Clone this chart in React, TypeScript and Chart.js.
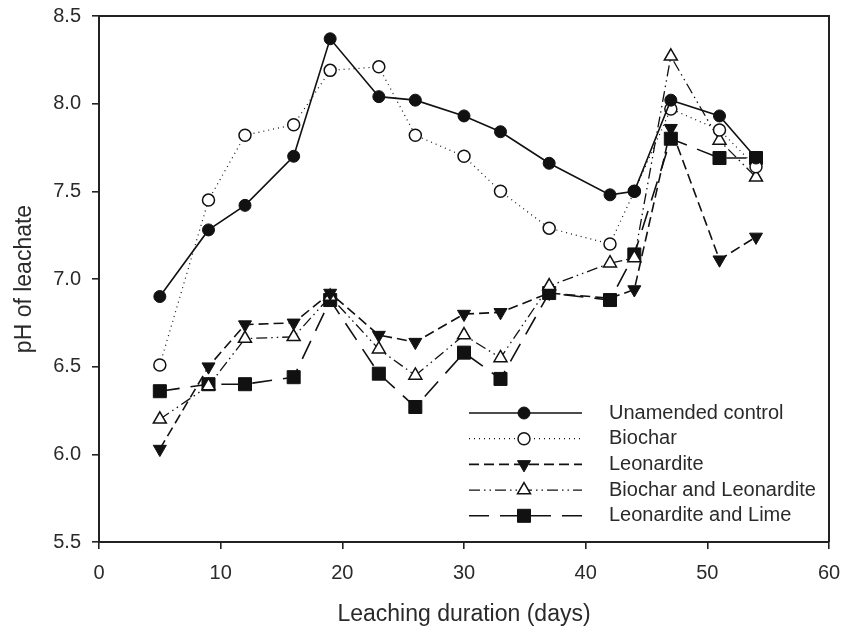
import React, { useEffect, useRef } from 'react';
import { Chart, registerables } from 'chart.js';

Chart.register(...registerables);

// ---- data ----
const days = [5, 9, 12, 16, 19, 23, 26, 30, 33, 37, 42, 44, 47, 51, 54];
const unamendedControl = [6.90, 7.28, 7.42, 7.70, 8.37, 8.04, 8.02, 7.93, 7.84, 7.66, 7.48, 7.50, 8.02, 7.93, 7.69];
const biochar = [6.51, 7.45, 7.82, 7.88, 8.19, 8.21, 7.82, 7.70, 7.50, 7.29, 7.20, 7.50, 7.97, 7.85, 7.64];
const leonardite = [6.03, 6.50, 6.74, 6.75, 6.92, 6.68, 6.64, 6.80, 6.81, 6.92, 6.89, 6.94, 7.86, 7.11, 7.24];
const biocharLeonardite = [6.20, 6.39, 6.66, 6.67, 6.90, 6.60, 6.45, 6.68, 6.55, 6.96, 7.09, 7.12, 8.27, 7.79, 7.58];
const leonarditeLime = [6.36, 6.40, 6.40, 6.44, 6.88, 6.46, 6.27, 6.58, 6.43, 6.92, 6.88, 7.14, 7.80, 7.69, 7.69];

const seriesLabels = ['Unamended control', 'Biochar', 'Leonardite', 'Biochar and Leonardite', 'Leonardite and Lime'];
const xTitle = 'Leaching duration (days)';
const yTitle = 'pH of leachate';

const INK = '#111';
const TEXT = '#2a2a2a';
const FONT = "'Liberation Sans', Arial, Helvetica, sans-serif";

const toPoints = (vals: number[]) => days.map((d, i) => ({ x: d, y: vals[i] }));

function drawMarker(ctx: CanvasRenderingContext2D, ds: any, x: number, y: number) {
  const r = ds.pointRadius;
  const style = ds.pointStyle;
  ctx.save();
  ctx.setLineDash([]);
  ctx.beginPath();
  if (style === 'circle') {
    ctx.arc(x, y, r, 0, Math.PI * 2);
  } else if (style === 'triangle') {
    let rad = ((ds.pointRotation || 0) * Math.PI) / 180;
    ctx.moveTo(x + Math.sin(rad) * r, y - Math.cos(rad) * r);
    rad += (2 * Math.PI) / 3;
    ctx.lineTo(x + Math.sin(rad) * r, y - Math.cos(rad) * r);
    rad += (2 * Math.PI) / 3;
    ctx.lineTo(x + Math.sin(rad) * r, y - Math.cos(rad) * r);
    ctx.closePath();
  } else {
    const s = r * Math.SQRT1_2;
    ctx.rect(x - s, y - s, 2 * s, 2 * s);
  }
  ctx.fillStyle = ds.pointBackgroundColor;
  ctx.fill();
  ctx.lineWidth = ds.pointBorderWidth;
  ctx.strokeStyle = ds.pointBorderColor;
  ctx.stroke();
  ctx.restore();
}

const framePlugin = {
  id: 'frameAndLegend',
  afterDraw(chart: any) {
    const { ctx, chartArea } = chart;
    const { left, right, top, bottom } = chartArea;
    ctx.save();
    ctx.strokeStyle = '#222';
    ctx.lineWidth = 2;
    ctx.setLineDash([]);
    ctx.beginPath();
    ctx.moveTo(left, top);
    ctx.lineTo(right, top);
    ctx.lineTo(right, bottom);
    ctx.stroke();

    // legend inside plot (lower right)
    const lineX0 = left + 370;
    const lineX1 = left + 483;
    const markX = left + 425;
    const textX = left + 510;
    const rowY0 = top + 397;
    const rowStep = 25.7;
    chart.data.datasets.forEach((ds: any, i: number) => {
      const y = rowY0 + i * rowStep;
      ctx.save();
      ctx.strokeStyle = ds.borderColor;
      ctx.lineWidth = ds.borderWidth;
      ctx.setLineDash(ds.borderDash || []);
      ctx.beginPath();
      ctx.moveTo(lineX0, y);
      ctx.lineTo(lineX1, y);
      ctx.stroke();
      ctx.restore();
      drawMarker(ctx, ds, markX, y);
      ctx.save();
      ctx.fillStyle = TEXT;
      ctx.font = `20px ${FONT}`;
      ctx.textAlign = 'left';
      ctx.textBaseline = 'middle';
      ctx.fillText(ds.label, textX, y);
      ctx.restore();
    });
    ctx.restore();
  },
};

export default function App() {
  const ref = useRef<HTMLCanvasElement | null>(null);

  useEffect(() => {
    if (!ref.current) return;
    const common = {
      borderColor: INK,
      pointBorderColor: INK,
      fill: false,
      tension: 0,
    };
    const chart = new Chart(ref.current, {
      type: 'line',
      data: {
        datasets: [
          {
            ...common,
            label: seriesLabels[0],
            data: toPoints(unamendedControl),
            borderWidth: 1.6,
            borderDash: [],
            pointStyle: 'circle',
            pointRadius: 6,
            pointBackgroundColor: INK,
            pointBorderWidth: 1,
          },
          {
            ...common,
            label: seriesLabels[1],
            data: toPoints(biochar),
            borderWidth: 1.2,
            borderDash: [1, 4],
            pointStyle: 'circle',
            pointRadius: 6,
            pointBackgroundColor: '#fff',
            pointBorderWidth: 1.5,
          },
          {
            ...common,
            label: seriesLabels[2],
            data: toPoints(leonardite),
            borderWidth: 1.6,
            borderDash: [10, 5],
            pointStyle: 'triangle',
            pointRotation: 180,
            pointRadius: 7.5,
            pointBackgroundColor: INK,
            pointBorderWidth: 1,
          },
          {
            ...common,
            label: seriesLabels[3],
            data: toPoints(biocharLeonardite),
            borderWidth: 1.3,
            borderDash: [11, 4, 1.5, 4, 1.5, 4],
            pointStyle: 'triangle',
            pointRotation: 0,
            pointRadius: 7.5,
            pointBackgroundColor: '#fff',
            pointBorderWidth: 1.5,
          },
          {
            ...common,
            label: seriesLabels[4],
            data: toPoints(leonarditeLime),
            borderWidth: 1.6,
            borderDash: [20, 11],
            pointStyle: 'rect',
            pointRadius: 9.2,
            pointBackgroundColor: INK,
            pointBorderWidth: 1,
          },
        ] as any,
      },
      options: {
        responsive: false,
        animation: false,
        events: [],
        layout: { padding: { top: 16, right: 13, left: 0, bottom: 0 } },
        plugins: {
          legend: { display: false },
          tooltip: { enabled: false },
        },
        scales: {
          x: {
            type: 'linear',
            min: 0,
            max: 60,
            afterFit: (axis: any) => {
              axis.height = 86;
              axis.paddingLeft = 0;
              axis.paddingRight = 0;
            },
            ticks: {
              stepSize: 10,
              color: TEXT,
              padding: 12,
              font: { family: FONT, size: 20 },
              maxRotation: 0,
            },
            grid: {
              display: true,
              drawOnChartArea: false,
              drawTicks: true,
              tickLength: 7,
              color: '#222',
              lineWidth: 1.6,
            },
            border: { display: true, color: '#222', width: 2 },
            title: {
              display: true,
              text: xTitle,
              color: TEXT,
              font: { family: FONT, size: 23, lineHeight: 1.2 },
              padding: { top: 0, bottom: 0 },
            },
          },
          y: {
            type: 'linear',
            min: 5.5,
            max: 8.5,
            afterFit: (axis: any) => {
              axis.width = 99;
              axis.paddingTop = 0;
              axis.paddingBottom = 0;
            },
            ticks: {
              stepSize: 0.5,
              color: TEXT,
              padding: 11,
              font: { family: FONT, size: 20 },
              callback: (v: any) => Number(v).toFixed(1),
            },
            grid: {
              display: true,
              drawOnChartArea: false,
              drawTicks: true,
              tickLength: 7,
              color: '#222',
              lineWidth: 1.6,
            },
            border: { display: true, color: '#222', width: 2 },
            title: {
              display: true,
              text: yTitle,
              color: TEXT,
              font: { family: FONT, size: 23, lineHeight: 1.2 },
              padding: { top: 11, bottom: 0 },
            },
          },
        },
      } as any,
      plugins: [framePlugin],
    });
    return () => chart.destroy();
  }, []);

  return (
    <div style={{ position: 'fixed', left: 0, top: 0, width: 842, height: 628, background: '#fff' }}>
      <canvas ref={ref} width={842} height={628} />
    </div>
  );
}
